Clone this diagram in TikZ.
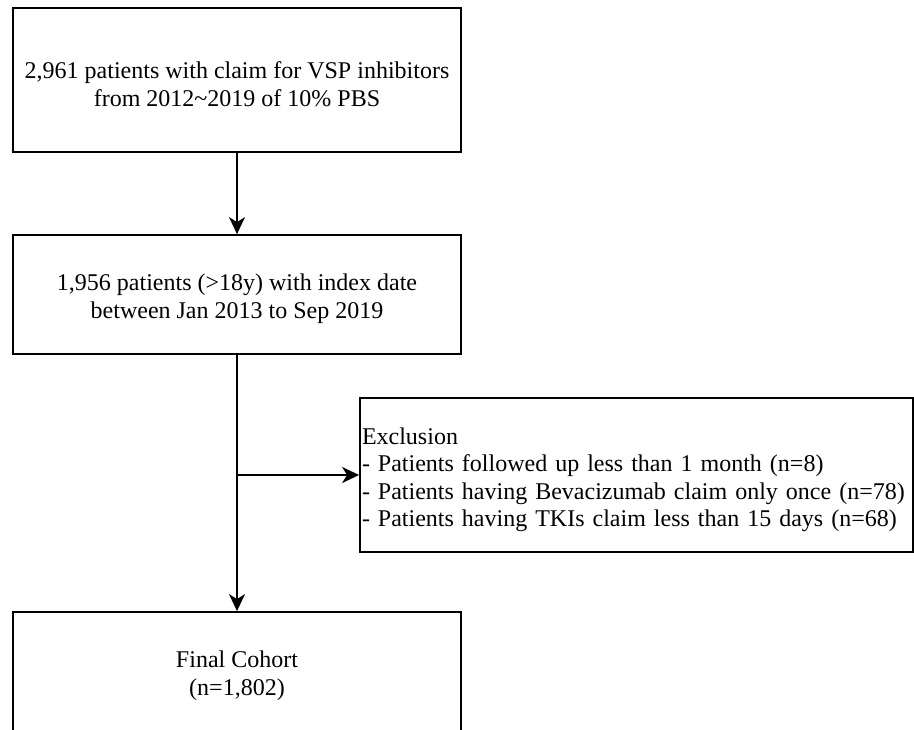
\documentclass[tikz,border=0pt]{standalone}
\usepackage{fontspec}
\setmainfont{Liberation Serif}
\usetikzlibrary{arrows.meta}
\begin{document}
\begin{tikzpicture}[x=1pt,y=-1pt,
  box/.style={draw=black,line width=1.8pt,inner sep=0pt,minimum width=448pt},
  boxtext/.style={font=\fontsize{24}{28}\selectfont,align=center,yshift=-4pt,inner sep=0pt},
  extext/.style={font=\fontsize{24}{27.5}\selectfont,text width=549pt,align=left,yshift=-5pt,inner sep=0pt},
  flow/.style={line width=1.8pt,-{Stealth[length=17pt,width=16pt,inset=5pt]}}]
\clip (0,0) rectangle (914,730);
\fill[white] (0,0) rectangle (914,730);
\node[box,minimum height=144pt,label={[boxtext]center:2,961 patients with claim for VSP inhibitors\\from 2012\textasciitilde 2019 of 10\% PBS}] (b1) at (237,80) {};
\node[box,minimum height=119pt,label={[boxtext]center:1,956 patients (>18y) with index date\\between Jan 2013 to Sep 2019}] (b2) at (237,294.5) {};
\node[box,minimum height=120pt,label={[boxtext]center:Final Cohort\\(n=1,802)}] (b4) at (237,672) {};
\node[draw=black,line width=1.8pt,minimum height=154pt,minimum width=553pt,inner sep=0pt,
  label={[extext]center:Exclusion\\- Patients followed up less than 1 month (n=8)\\- Patients having Bevacizumab claim only once (n=78)\\- Patients having TKIs claim less than 15 days (n=68)}] (ex) at (636.5,475) {};
\coordinate (br) at (b2.south |- ex.west);
\draw[flow] (b1) -- (b2);
\draw[flow] (b2) -- (b4);
\draw[flow] (br) -- (ex.west);
\end{tikzpicture}
\end{document}
